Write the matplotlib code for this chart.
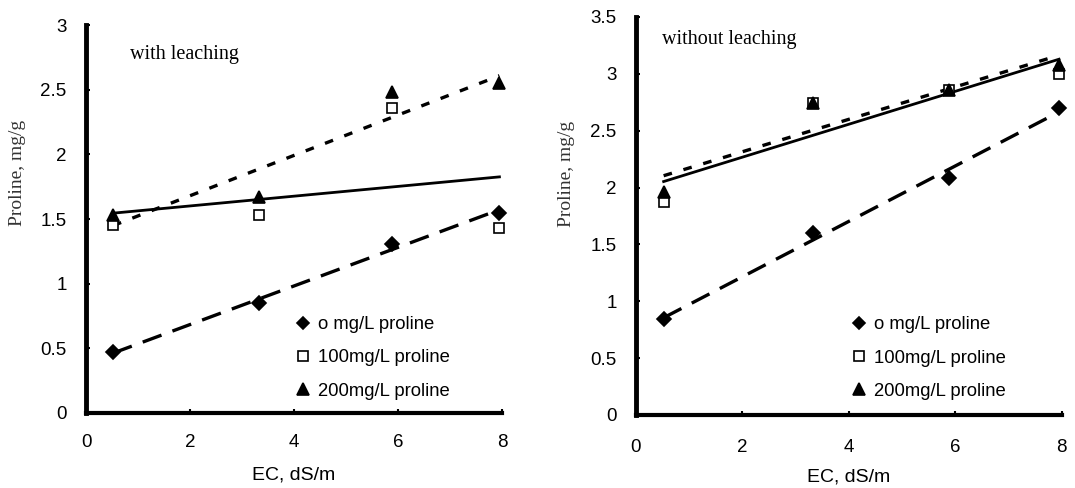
import numpy as np
import matplotlib
matplotlib.use("Agg")
import matplotlib.pyplot as plt
from matplotlib.lines import Line2D

# ---- data ----
ec = [0.52, 3.33, 5.88, 7.95]
labels = ["o mg/L proline", "100mg/L proline", "200mg/L proline"]

with_p0 = [0.47, 0.85, 1.31, 1.55]
with_p100 = [1.45, 1.53, 2.36, 1.43]
with_p200 = [1.53, 1.67, 2.48, 2.55]

without_p0 = [0.84, 1.60, 2.08, 2.70]
without_p100 = [1.87, 2.74, 2.86, 3.00]
without_p200 = [1.96, 2.74, 2.86, 3.08]

xticks = [0, 2, 4, 6, 8]
yticks_left = [0, 0.5, 1, 1.5, 2, 2.5, 3]
ytick_labels_left = ["0", "0.5", "1", "1.5", "2", "2.5", "3"]
yticks_right = [0, 0.5, 1, 1.5, 2, 2.5, 3, 3.5]
ytick_labels_right = ["0", "0.5", "1", "1.5", "2", "2.5", "3", "3.5"]

SANS = ["Liberation Sans", "DejaVu Sans"]
SERIF = ["Liberation Serif", "DejaVu Serif"]

fig = plt.figure(figsize=(10.75, 4.88), dpi=100)
axL = fig.add_axes([0.080, 0.1537, 0.387, 0.795])
axR = fig.add_axes([0.5916, 0.1496, 0.396, 0.8156])

styles = [
    dict(marker="D", mfc="black", mec="black", ms=7, ls=(0, (6, 3.5)), lw=2.4),
    dict(marker="s", mfc="white", mec="black", ms=7.5, ls="-", lw=2.0),
    dict(marker="^", mfc="black", mec="black", ms=9, ls=(0, (2.6, 3.6)), lw=2.4),
]


def draw(ax, series, yticks, yticklabels, ymax, title, title_xy, legend_xy,
         ylabel_y, ylabel_x, xlabel_pad, xtick_pad):
    for ys, st in zip(series, styles):
        ax.plot(ec, ys, linestyle="none", marker=st["marker"], mfc=st["mfc"],
                mec=st["mec"], ms=st["ms"], mew=1.2, zorder=4, clip_on=False)
        coef = np.polyfit(ec, ys, 1)
        xs = np.array([min(ec), max(ec)])
        ax.plot(xs, np.polyval(coef, xs), color="black", lw=st["lw"],
                linestyle=st["ls"], zorder=3, clip_on=False)
    ax.set_xlim(0, 8)
    ax.set_ylim(0, ymax)
    ax.set_xticks(xticks)
    ax.set_xticklabels([str(t) for t in xticks], family=SANS, fontsize=13.5)
    ax.set_yticks(yticks)
    ax.set_yticklabels(yticklabels, family=SANS, fontsize=13.5)
    for s in ["top", "right"]:
        ax.spines[s].set_visible(False)
    ax.spines["bottom"].set_linewidth(3)
    ax.spines["left"].set_linewidth(3.5)
    ax.tick_params(axis="both", direction="in", length=3, width=1.5)
    ax.tick_params(axis="y", pad=14)
    ax.tick_params(axis="x", pad=xtick_pad)
    ax.set_xlabel("EC, dS/m", family=SANS, fontsize=14, labelpad=xlabel_pad)
    ax.set_ylabel("Proline, mg/g", family=SERIF, fontsize=14, color="#333333")
    ax.yaxis.set_label_coords(ylabel_x, ylabel_y)
    ax.text(title_xy[0], title_xy[1], title, transform=ax.transAxes,
            family=SERIF, fontsize=14.5, va="center", ha="left")
    handles = [Line2D([], [], linestyle="none", marker=st["marker"],
                      mfc=st["mfc"], mec=st["mec"], ms=st["ms"] - 1, mew=1.2)
               for st in styles]
    ax.legend(handles, labels, loc="upper left", bbox_to_anchor=legend_xy,
              frameon=False, prop=dict(family=SANS, size=13.3),
              handlelength=0.7, handletextpad=0.45, labelspacing=0.88,
              borderaxespad=0, borderpad=0)
    for sp in ax.spines.values():
        sp.set_zorder(5)


draw(axL, [with_p0, with_p100, with_p200], yticks_left, ytick_labels_left, 3,
     "with leaching", (0.106, 0.923), (0.507, 0.25),
     0.62, -0.145, 11, 15)
draw(axR, [without_p0, without_p100, without_p200], yticks_right,
     ytick_labels_right, 3.5, "without leaching", (0.06, 0.943), (0.509, 0.248),
     0.605, -0.143, 9, 17)

fig.savefig("out.png", dpi=100, facecolor="white")
